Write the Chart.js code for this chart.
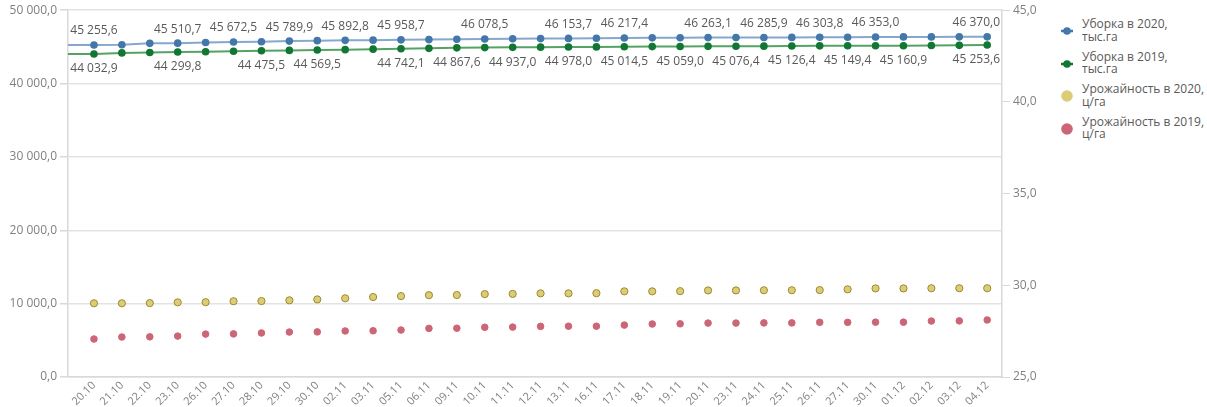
<!DOCTYPE html>
<html>
<head>
<meta charset="utf-8">
<script src="https://cdn.jsdelivr.net/npm/chart.js@4/dist/chart.umd.min.js"></script>
<style>
  body { margin: 0; background: #fff; font-family: "Open Sans", sans-serif; }
  #wrap { position: relative; width: 1207px; height: 407px; }
  #box { position: absolute; left: 0; top: 0; width: 1045px; height: 407px; }
  #legend { position: absolute; left: 1058px; top: 18px; }
  .item { position: absolute; left: 0; width: 150px; height: 26px; }
  .mark { position: absolute; left: 0; top: 7px; width: 20px; height: 12px; }
  .txt { position: absolute; left: 24px; top: 0; font-size: 12px; line-height: 12.5px; color: #595959; white-space: nowrap; }
</style>
</head>
<body>
<div id="wrap">
  <div id="box"><canvas id="chart"></canvas></div>
  <div id="legend"></div>
</div>
<script>
console.log("connected")

const categories = ['20.10','21.10','22.10','23.10','26.10','27.10','28.10','29.10','30.10','02.11','03.11',
  '05.11','06.11','09.11','10.11','11.11','12.11','13.11','16.11','17.11','18.11','19.11','20.11','23.11',
  '24.11','25.11','26.11','27.11','30.11','01.12','02.12','03.12','04.12'];

const seriesNames = ['Уборка в 2020, тыс.га', 'Уборка в 2019, тыс.га', 'Урожайность в 2020, ц/га', 'Урожайность в 2019, ц/га'];

const harvest2020 = [45255.6, 45290.0, 45480.0, 45510.7, 45600.0, 45672.5, 45700.0, 45789.9, 45850.0, 45892.8, 45920.0,
  45958.7, 45990.0, 46030.0, 46078.5, 46100.0, 46130.0, 46153.7, 46180.0, 46217.4, 46230.0, 46250.0, 46263.1, 46275.0,
  46285.9, 46295.0, 46303.8, 46320.0, 46353.0, 46358.0, 46362.0, 46366.0, 46370.0];

const harvest2019 = [44032.9, 44180.0, 44240.0, 44299.8, 44340.0, 44400.0, 44475.5, 44520.0, 44569.5, 44620.0, 44690.0,
  44742.1, 44800.0, 44867.6, 44900.0, 44937.0, 44960.0, 44978.0, 45000.0, 45014.5, 45040.0, 45059.0, 45070.0, 45076.4,
  45100.0, 45126.4, 45140.0, 45149.4, 45155.0, 45160.9, 45180.0, 45210.0, 45253.6];

const yield2020 = [29.02, 29.02, 29.03, 29.07, 29.08, 29.13, 29.14, 29.18, 29.23, 29.29, 29.36,
  29.41, 29.46, 29.47, 29.52, 29.53, 29.56, 29.56, 29.57, 29.67, 29.67, 29.68, 29.72, 29.72,
  29.73, 29.73, 29.74, 29.78, 29.83, 29.83, 29.84, 29.84, 29.84];

const yield2019 = [27.07, 27.18, 27.19, 27.23, 27.34, 27.35, 27.40, 27.45, 27.46, 27.51, 27.52,
  27.56, 27.65, 27.66, 27.71, 27.72, 27.76, 27.77, 27.77, 27.83, 27.89, 27.90, 27.94, 27.94,
  27.95, 27.95, 27.98, 27.98, 27.99, 27.99, 28.05, 28.06, 28.11];

// which points get a value label (the rest were hidden in the original)
const labels2020 = [0, 3, 5, 7, 9, 11, 14, 17, 19, 22, 24, 26, 28, 32];
const labels2019 = [0, 3, 6, 8, 11, 13, 15, 17, 19, 21, 23, 25, 27, 29, 32];

const leftTicks = [0, 10000, 20000, 30000, 40000, 50000];
const rightTicks = [25, 30, 35, 40, 45];

const colors = ['#4477aa', '#117733', '#ddcc77', '#cc6677'];
const lineColors = ['#86a7cf', '#55a265'];

function fmt(v) {
  let s = v.toFixed(1).split('.');
  let int = s[0].replace(/\B(?=(\d{3})+(?!\d))/g, ' ');
  return int + ',' + s[1];
}

function pts(arr) { return arr.map((v, i) => ({x: i, y: v})); }

// stretch the lines back to the left edge like the original
const edgeLines = {
  id: 'edgeLines',
  beforeDatasetsDraw(chart) {
    const ctx = chart.ctx;
    [0, 1].forEach(d => {
      const p = chart.getDatasetMeta(d).data[0];
      ctx.save();
      ctx.strokeStyle = lineColors[d];
      ctx.lineWidth = 2;
      ctx.beginPath();
      ctx.moveTo(chart.chartArea.left, p.y);
      ctx.lineTo(p.x, p.y);
      ctx.stroke();
      ctx.restore();
    });
  }
};

const valueLabels = {
  id: 'valueLabels',
  afterDatasetsDraw(chart) {
    const ctx = chart.ctx;
    ctx.save();
    ctx.font = '12px "Open Sans", sans-serif';
    ctx.fillStyle = '#595959';
    ctx.textAlign = 'center';
    ctx.textBaseline = 'middle';
    [[0, labels2020, -14, harvest2020], [1, labels2019, 15, harvest2019]].forEach(([d, idx, dy, vals]) => {
      const meta = chart.getDatasetMeta(d);
      idx.forEach(i => {
        const p = meta.data[i];
        const t = fmt(vals[i]);
        const w = ctx.measureText(t).width;
        let x = p.x;
        if (x + w / 2 > chart.chartArea.right - 2) x = chart.chartArea.right - 2 - w / 2;
        ctx.fillText(t, x, p.y + dy);
      });
    });
    ctx.restore();
  }
};

Chart.defaults.font.family = '"Open Sans", sans-serif';
Chart.defaults.color = '#808080';

let ctx = document.getElementById('chart').getContext('2d');
let chart = new Chart(ctx, {
  type: 'line',
  data: {
    datasets: [{
      label: seriesNames[0],
      data: pts(harvest2020),
      yAxisID: 'y',
      borderColor: lineColors[0],
      borderWidth: 2,
      pointBackgroundColor: colors[0],
      pointBorderColor: colors[0],
      pointRadius: 2.8,
      order: 2
    }, {
      label: seriesNames[1],
      data: pts(harvest2019),
      yAxisID: 'y',
      borderColor: lineColors[1],
      borderWidth: 2,
      pointBackgroundColor: colors[1],
      pointBorderColor: colors[1],
      pointRadius: 2.8,
      order: 1
    }, {
      label: seriesNames[2],
      data: pts(yield2020),
      yAxisID: 'y1',
      showLine: false,
      pointBackgroundColor: colors[2],
      pointBorderColor: '#9c8a2c',
      pointBorderWidth: 1,
      pointRadius: 3.6
    }, {
      label: seriesNames[3],
      data: pts(yield2019),
      yAxisID: 'y1',
      showLine: false,
      pointBackgroundColor: colors[3],
      pointBorderColor: colors[3],
      pointRadius: 3.3
    }]
  },
  options: {
    responsive: true,
    maintainAspectRatio: false,
    animation: false,
    layout: {padding: {top: 10, left: 0, right: 0, bottom: 0}},
    plugins: {legend: {display: false}, tooltip: {enabled: false}},
    scales: {
      x: {
        type: 'linear',
        min: -0.93,
        max: 32.53,
        grid: {display: false},
        border: {color: '#d9d9d9', width: 1.5},
        afterBuildTicks: s => { s.ticks = categories.map((c, i) => ({value: i})); },
        afterFit: s => { s.height = 30; },
        ticks: {
          autoSkip: false,
          minRotation: 45,
          maxRotation: 45,
          padding: -6,
          font: {size: 11},
          callback: v => categories[v]
        }
      },
      y: {
        position: 'left',
        min: 0,
        max: 50000,
        afterBuildTicks: s => { s.ticks = leftTicks.map(v => ({value: v})); },
        afterFit: s => { s.width = 68; },
        grid: {color: '#e3e3e3', lineWidth: 1.5, tickLength: 8, tickColor: '#d9d9d9'},
        border: {color: '#d9d9d9', width: 1.5},
        ticks: {padding: 3, font: {size: 12}, callback: v => fmt(v)}
      },
      y1: {
        position: 'right',
        min: 25,
        max: 45,
        afterBuildTicks: s => { s.ticks = rightTicks.map(v => ({value: v})); },
        afterFit: s => { s.width = 43; },
        grid: {drawOnChartArea: false, tickLength: 8, tickColor: '#d9d9d9'},
        border: {color: '#d9d9d9', width: 1.5},
        ticks: {padding: 3, font: {size: 12}, callback: v => fmt(v)}
      }
    }
  },
  plugins: [edgeLines, valueLabels]
});

// legend on the right, two lines per entry
const legend = document.getElementById('legend');
seriesNames.forEach((name, i) => {
  const item = document.createElement('div');
  item.className = 'item';
  item.style.top = (i * 32.5) + 'px';
  let mark;
  if (i < 2) {
    mark = '<svg class="mark" width="20" height="12"><line x1="3" y1="6" x2="15" y2="6" stroke="' + colors[i] +
      '" stroke-width="2.5"/><circle cx="9" cy="6" r="3.8" fill="' + colors[i] + '"/></svg>';
  } else {
    mark = '<svg class="mark" width="20" height="12"><circle cx="9" cy="6" r="5.8" fill="' + colors[i] + '"/></svg>';
  }
  item.innerHTML = mark + '<div class="txt">' + name.replace(', ', ',<br>') + '</div>';
  legend.appendChild(item);
});
</script>
</body>
</html>
